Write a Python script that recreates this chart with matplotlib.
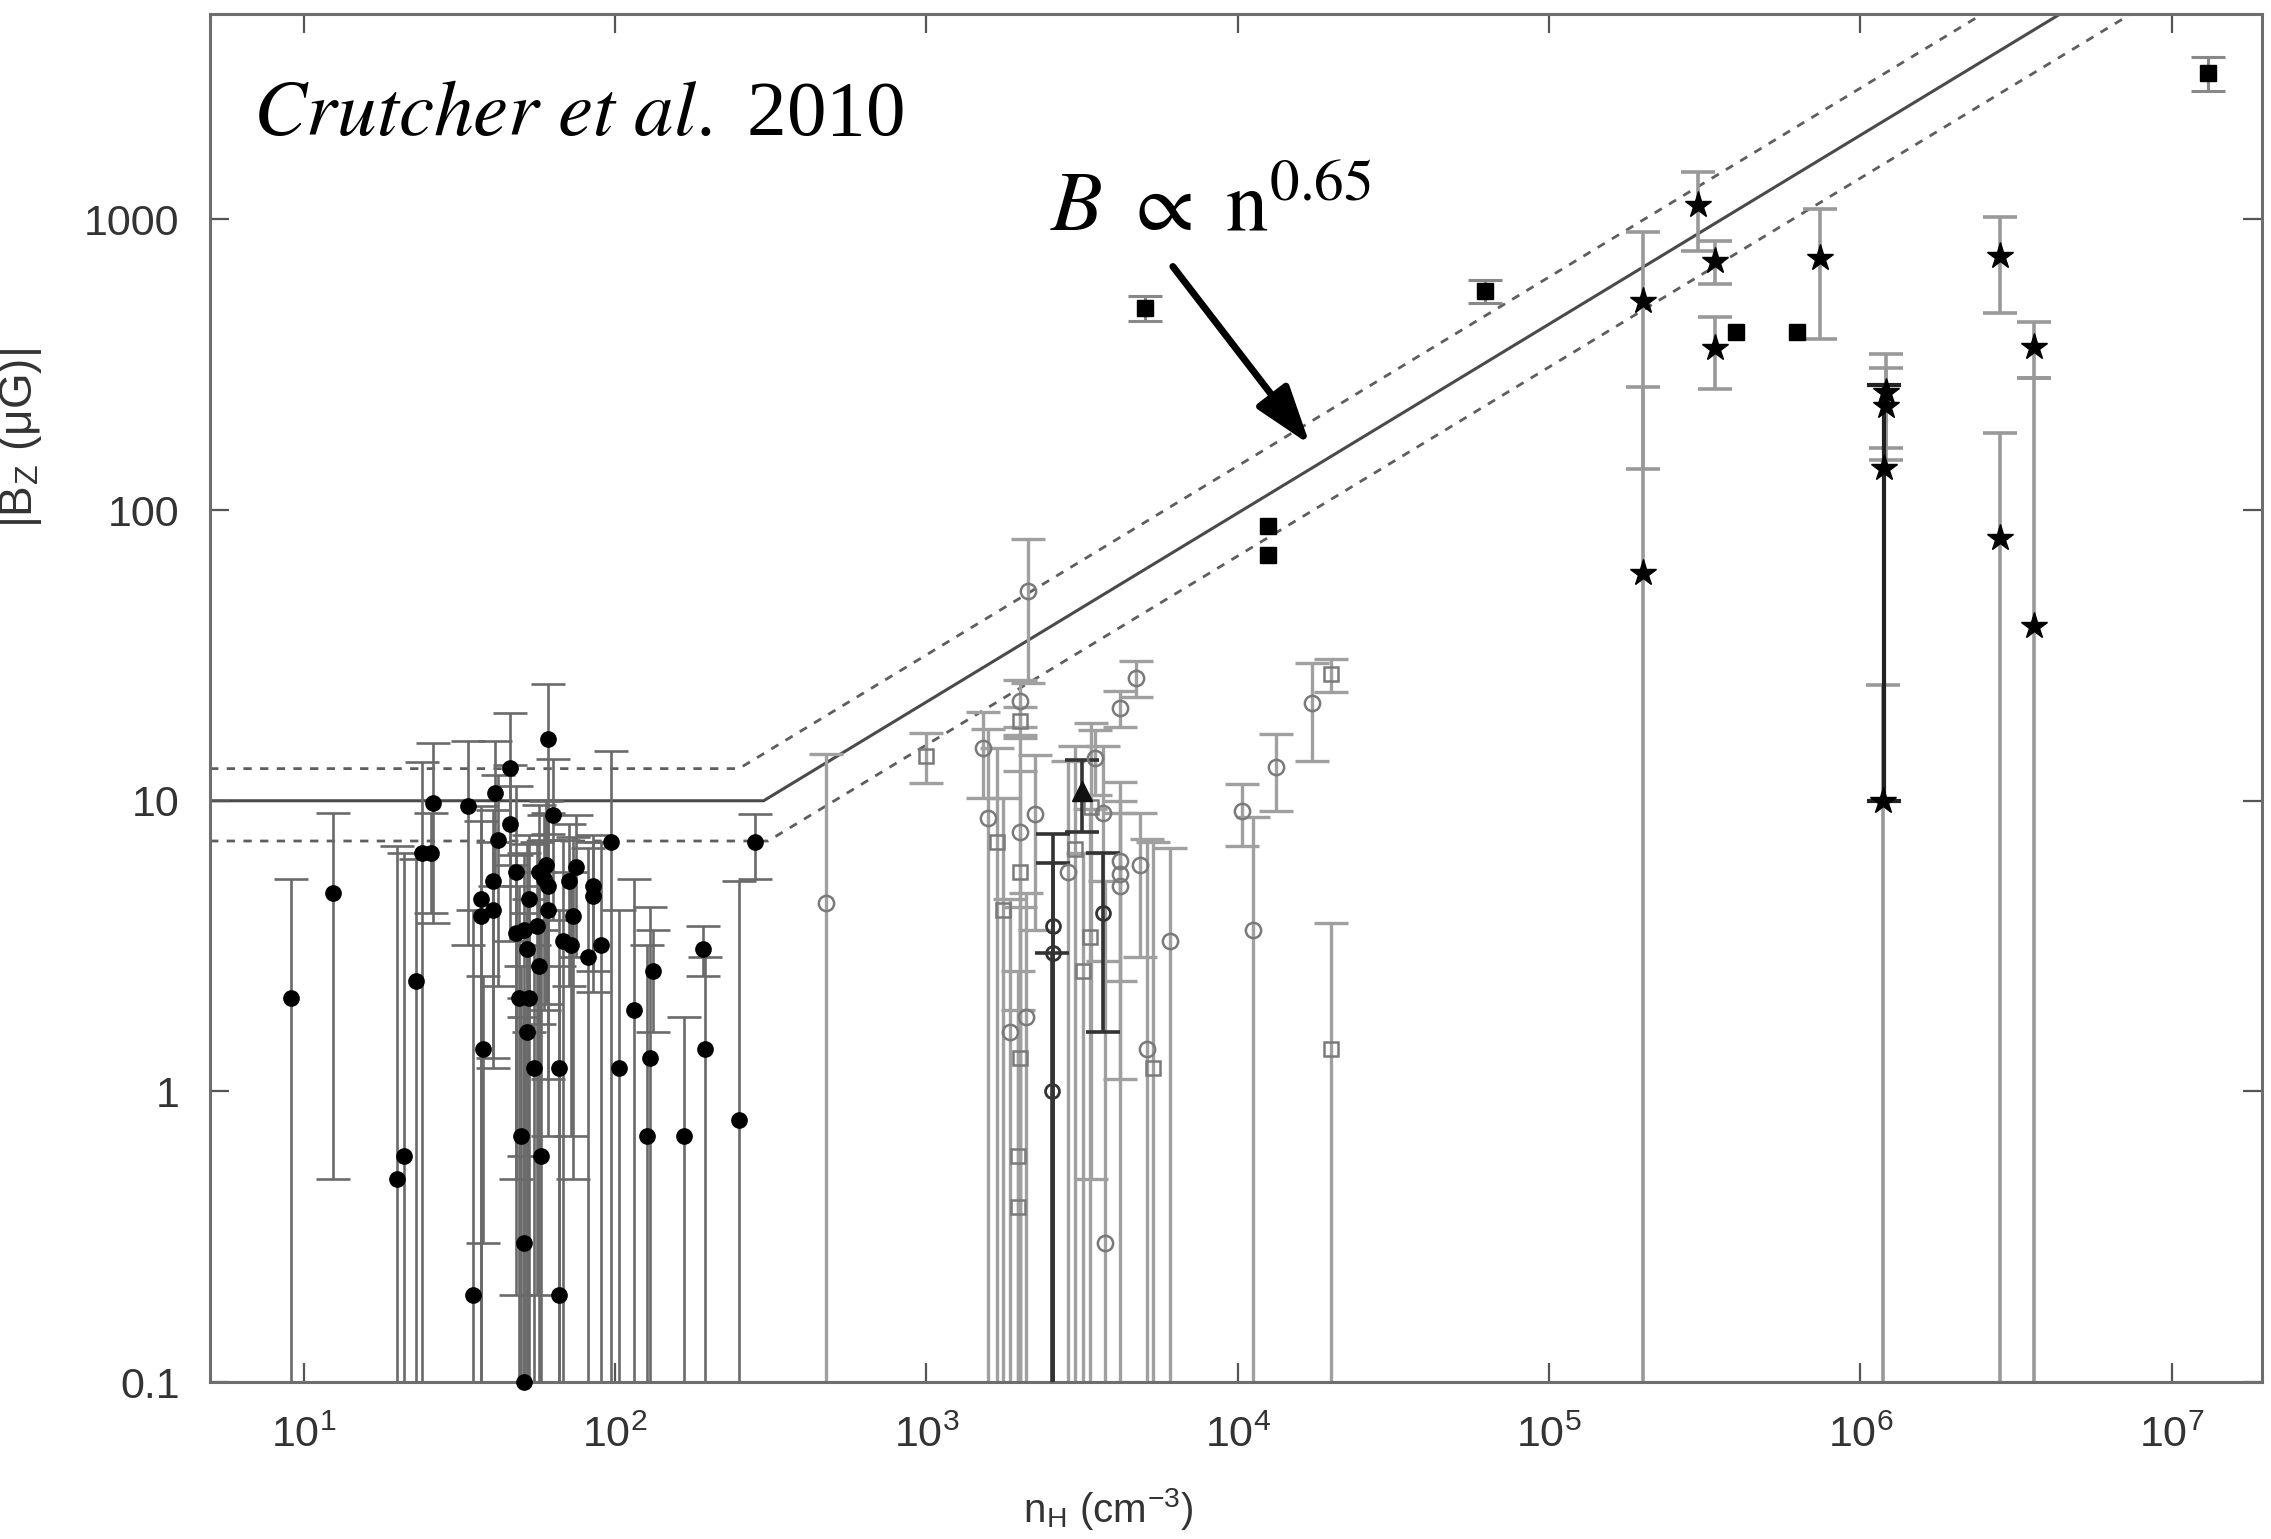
import numpy as np
import matplotlib.pyplot as plt
from matplotlib import ticker

plt.rcParams['font.family'] = ['Liberation Sans', 'DejaVu Sans']
plt.rcParams['mathtext.fontset'] = 'stix'

# HI Zeeman (filled circles): density n_H, |B_z|, sigma (uG)
hi_n = [9.1, 12.4, 20, 21, 23, 24, 25.7, 26, 33.6, 35, 37, 37, 37.7, 40.5, 40.5,
        41, 42, 46, 46, 48, 48, 49, 50, 51, 51, 51, 52, 52, 53, 53, 55, 56, 57, 57,
        58, 59, 60, 61, 61, 61, 63, 66, 66, 68, 71, 72, 73, 75, 82, 85, 85, 90, 97,
        103, 115, 127, 129, 132, 166, 191, 194, 250, 281]
hi_b = [2.1, 4.8, 0.5, 0.6, 2.4, 6.6, 6.6, 9.8, 9.6, 0.2, 4.6, 4.0, 1.4, 5.3, 4.2,
        10.6, 7.3, 13, 8.3, 5.7, 3.5, 2.1, 0.7, 3.6, 0.3, 0.1, 3.1, 1.6, 4.6, 2.1, 1.2,
        3.7, 5.7, 2.7, 0.6, 5.4, 6.0, 16.3, 5.1, 4.2, 8.9, 1.2, 0.2, 3.3, 5.3, 3.2, 4.0,
        5.9, 2.9, 5.1, 4.7, 3.2, 7.2, 1.2, 1.9, 0.7, 1.3, 2.6, 0.7, 3.1, 1.4, 0.8, 7.2]
hi_err = [3.3, 4.3, 6.5, 6.0, 3.9, 7.0, 2.5, 6.0, 6.4, 4.0, 5.0, 4.5, 1.1, 4.0, 3.0,
          5.5, 5.0, 7.0, 5.0, 5.5, 3.0, 3.0, 2.0, 3.0, 1.5, 2.0, 4.0, 2.5, 3.0, 2.5, 2.0,
          3.5, 4.0, 3.0, 3.0, 3.5, 4.0, 9.0, 4.0, 3.5, 5.0, 3.0, 2.5, 4.0, 3.0, 2.5, 3.5,
          3.0, 4.0, 2.5, 2.5, 4.0, 7.6, 3.0, 3.5, 2.5, 3.0, 1.0, 1.1, 0.6, 1.5, 4.5, 1.8]

# OH Zeeman, open circles
ohc_n = [477, 1520, 1580, 1850, 2000, 2000, 2090, 2120, 2230, 2860, 3480, 3700, 3740,
         4180, 4200, 4180, 4850, 4180, 4730, 5100, 6060, 10300, 11200, 13300, 17300]
ohc_b = [4.45, 15.2, 8.7, 1.6, 22, 7.8, 1.8, 52.5, 9.0, 5.7, 14.0, 9.1, 0.3,
         6.2, 5.6, 5.1, 6.0, 20.9, 26.5, 1.4, 3.3, 9.2, 3.6, 13.1, 21.7]
ohc_err = [10, 5, 9, 3, 4, 9, 3, 27, 5.4, 8, 3.5, 6.3, 5,
           3.8, 6, 4, 3.1, 3, 3.7, 6, 3.6, 2.2, 5.2, 3.9, 8]

# OH Zeeman, open squares
ohs_n = [1000, 1680, 1765, 2000, 2000, 2000, 1970, 1970, 3000, 3390, 3350, 3190, 5350, 20000, 20000]
ohs_b = [14.3, 7.2, 4.2, 18.8, 5.7, 1.3, 0.6, 0.4, 6.8, 9.5, 3.4, 2.6, 1.2, 27.2, 1.4]
ohs_err = [2.8, 8, 6, 2.3, 7, 3, 2, 1.5, 8.6, 9, 6, 4, 6, 3.5, 2.4]

# OH points drawn with dark bars
ohd_n = [2550, 2550, 2530, 3700]
ohd_b = [3.7, 3.0, 1.0, 4.1]
ohd_err = [4.0, 3.1, 2.0, 2.5]
tri_n = [3150]
tri_b = [10.8]
tri_err = [3.0]

# CN Zeeman (stars)
cn_n = [2.0e5, 2.0e5, 3.01e5, 3.41e5, 3.41e5, 7.43e5, 1.21e6, 1.21e6, 1.18e6,
        2.8e6, 2.8e6, 3.62e6, 3.62e6]
cn_b = [524, 61, 1120, 721, 362, 739, 254, 229, 10, 747, 80.5, 364, 40]
cn_err = [385, 204, 340, 120, 100, 350, 90, 80, 15, 270, 104, 80, 245]
cnd_n = [1.19e6]
cnd_b = [140]
cnd_err = [130]

# filled squares
sq_n = [5040, 12500, 12500, 62200, 3.98e5, 6.27e5, 1.31e7]
sq_b = [497, 88, 70, 567, 409, 409, 3190]
sq_err = [50, 0, 0, 50, 0, 0, 420]

# model: flat B0 below n0, then B0 (n/n0)^alpha
B0, n0, alpha = 10.0, 300.0, 0.65
B0_hi, n0_hi = 12.9, 250.0
B0_lo, n0_lo = 7.27, 310.0

xlim = (5.0, 1.95e7)
ylim = (0.1, 5100)


def bars(ax, n, b, err, color, lw, z):
    n = np.asarray(n, float)
    b = np.asarray(b, float)
    err = np.asarray(err, float)
    keep = err > 0
    lo = b - np.clip(b - err, 0.03, None)
    ax.errorbar(n[keep], b[keep], yerr=[lo[keep], err[keep]], fmt='none',
                ecolor=color, elinewidth=lw, capsize=12, capthick=lw, zorder=z)


def model(b0, nb):
    n_end = nb * (ylim[1] * 1.5 / b0) ** (1 / alpha)
    return [xlim[0], nb, n_end], [b0, b0, b0 * (n_end / nb) ** alpha]


fig = plt.figure(figsize=(22.71, 15.39), dpi=100)
ax = fig.add_axes([0.0925, 0.102, 0.9035, 0.889])
ax.set_xscale('log')
ax.set_yscale('log')

bars(ax, ohc_n, ohc_b, ohc_err, '#a0a0a0', 2.4, 2)
bars(ax, ohs_n, ohs_b, ohs_err, '#a0a0a0', 2.4, 2)
bars(ax, cn_n, cn_b, cn_err, '#999999', 2.6, 2)
bars(ax, sq_n, sq_b, sq_err, '#888888', 2.2, 2)
bars(ax, hi_n, hi_b, hi_err, '#6a6a6a', 1.9, 3)
bars(ax, ohd_n, ohd_b, ohd_err, '#333333', 2.6, 3)
bars(ax, tri_n, tri_b, tri_err, '#333333', 2.6, 3)
bars(ax, cnd_n, cnd_b, cnd_err, '#222222', 3.0, 3)

ax.plot(ohc_n, ohc_b, 'o', ms=11, mfc='none', mec='#7a7a7a', mew=1.8, zorder=4)
ax.plot(ohs_n, ohs_b, 's', ms=10, mfc='none', mec='#7a7a7a', mew=1.8, zorder=4)
ax.plot(ohd_n, ohd_b, 'o', ms=10, mfc='none', mec='#333333', mew=2, zorder=4)
ax.plot(tri_n, tri_b, '^', ms=14, color='#111111', zorder=5)
ax.plot(hi_n, hi_b, 'o', ms=11, color='black', zorder=5, clip_on=False)
ax.plot(cn_n + cnd_n, cn_b + cnd_b, '*', ms=20, color='black', zorder=5)
ax.plot(sq_n, sq_b, 's', ms=11, color='black', zorder=5)

x, y = model(B0, n0)
ax.plot(x, y, '-', color='#4a4a4a', lw=2.2, zorder=1)
x, y = model(B0_hi, n0_hi)
ax.plot(x, y, '--', color='#5e5e5e', lw=2.0, dashes=(3, 3), zorder=1)
x, y = model(B0_lo, n0_lo)
ax.plot(x, y, '--', color='#5e5e5e', lw=2.0, dashes=(3, 3), zorder=1)

ax.set_xlim(*xlim)
ax.set_ylim(*ylim)

ax.xaxis.set_major_locator(ticker.FixedLocator([10.0 ** k for k in range(1, 8)]))
ax.xaxis.set_major_formatter(ticker.FuncFormatter(
    lambda v, p: r'$\mathregular{10^{%d}}$' % round(np.log10(v))))
ax.xaxis.set_minor_locator(ticker.NullLocator())
ax.yaxis.set_major_locator(ticker.FixedLocator([0.1, 1, 10, 100, 1000]))
ax.yaxis.set_major_formatter(ticker.FixedFormatter(['0.1', '1', '10', '100', '1000']))
ax.yaxis.set_minor_locator(ticker.NullLocator())

ax.tick_params(which='major', direction='in', length=14, width=1.6, color='#555555',
               top=True, right=True, labelsize=31, labelcolor='#333333')
ax.tick_params(axis='x', pad=24)
ax.tick_params(axis='y', pad=22)
for s in ax.spines.values():
    s.set_color('#6e6e6e')
    s.set_linewidth(2.2)

ax.set_xlabel(r'n$_\mathregular{H}$ (cm$^\mathregular{-3}$)', fontsize=29, color='#333333')
ax.set_ylabel(r'|B$_\mathregular{Z}$ ($\mathregular{\mu}$G)|', fontsize=33, color='#333333')
ax.xaxis.set_label_coords(0.4376, -0.076)
ax.yaxis.set_label_coords(-0.081, 0.69)

ax.text(0.021, 0.9115, r'$\mathit{Crutcher\ et\ al.}$ 2010', transform=ax.transAxes,
        fontsize=57, family=['Liberation Serif', 'DejaVu Serif'], ha='left', va='baseline')
ax.text(0.4094, 0.842, r'$B\ \propto\ \mathrm{n}^{0.65}$', transform=ax.transAxes,
        fontsize=61, ha='left', va='baseline')
ax.annotate('', xy=(17060, 168), xytext=(6190, 689),
            arrowprops=dict(arrowstyle='-|>,head_length=0.9,head_width=0.3',
                            lw=5, color='black', mutation_scale=40, shrinkA=0, shrinkB=0))

fig.savefig('out.png', dpi=100)
